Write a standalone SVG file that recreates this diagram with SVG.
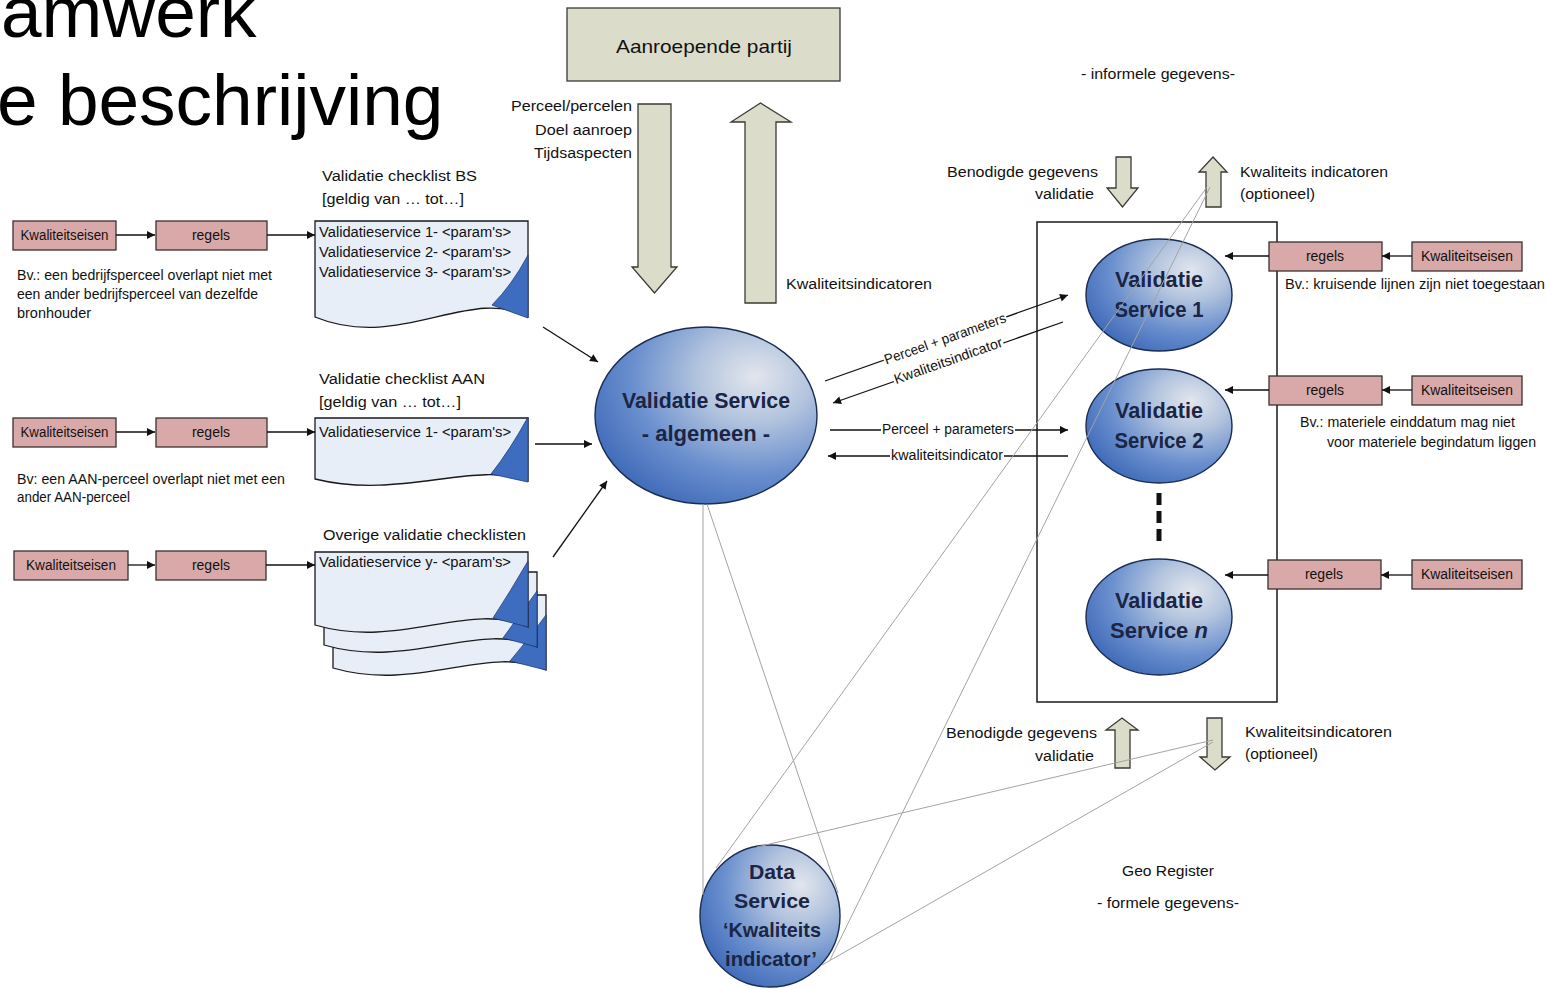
<svg xmlns="http://www.w3.org/2000/svg" width="1546" height="989" viewBox="0 0 1546 989">
<defs>
<style>
text{font-family:"Liberation Sans",Arial,sans-serif;fill:#111}
.s{font-size:14px}
.m{font-size:19px}
.b{font-size:22px;font-weight:bold;fill:#1b2545}
.bd{font-size:21px;font-weight:bold;fill:#1b2545}
.title{font-size:73px;fill:#000}
.pink{fill:#d9a9a9;stroke:#3a3030;stroke-width:1.3}
.tan{fill:#dcdccb;stroke:#3a3a34;stroke-width:1.3}
.doc{fill:#e8eef8;stroke:#1a1a1a;stroke-width:1.3}
.tri{fill:#3e6dbf;stroke:#1d3b78;stroke-width:0.8}
.ell{fill:url(#eg);stroke:#1b2b52;stroke-width:1.4}
.frame{fill:none;stroke:#1a1a1a;stroke-width:1.5}
.c{stroke:#111;stroke-width:1.3;fill:none}
.cm{stroke:#111;stroke-width:1.3;fill:none;marker-end:url(#ah)}
.g{stroke:#a3a3a3;stroke-width:1;fill:none}
.lbl{fill:#fff}
</style>
<radialGradient id="eg" cx="0.72" cy="0.28" r="0.85" fx="0.72" fy="0.28">
<stop offset="0" stop-color="#e2e6ed"/>
<stop offset="0.3" stop-color="#b3c4de"/>
<stop offset="0.65" stop-color="#6a8fce"/>
<stop offset="1" stop-color="#3a66b5"/>
</radialGradient>
<marker id="ah" viewBox="0 0 10 10" refX="10" refY="5" markerWidth="11" markerHeight="8" markerUnits="userSpaceOnUse" orient="auto">
<path d="M0,0 L10,5 L0,10 Z" fill="#111"/>
</marker>
</defs>
<rect width="1546" height="989" fill="#fff"/>

<g id="title">
<text class="title" x="1" y="37">amwerk</text>
<text class="title" x="-3" y="125">e beschrijving</text>
</g>

<!-- Left row 1 -->
<g id="kwal-l1"><rect class="pink" x="13" y="221" width="103" height="29"/><text class="s" x="64.5" y="240" text-anchor="middle" textLength="88" lengthAdjust="spacingAndGlyphs">Kwaliteitseisen</text></g>
<g id="regels-l1"><rect class="pink" x="156" y="221" width="111" height="29"/><text class="s" x="211" y="240" text-anchor="middle">regels</text></g>
<g id="note-l1">
<text class="s" x="17" y="280" textLength="255" lengthAdjust="spacingAndGlyphs">Bv.: een bedrijfsperceel overlapt niet met</text>
<text class="s" x="17" y="299" textLength="241" lengthAdjust="spacingAndGlyphs">een ander bedrijfsperceel van dezelfde</text>
<text class="s" x="17" y="318" textLength="74" lengthAdjust="spacingAndGlyphs">bronhouder</text>
</g>
<g id="checklist-bs">
<text class="s" x="322" y="181" textLength="155" lengthAdjust="spacingAndGlyphs">Validatie checklist BS</text>
<text class="s" x="322" y="204" textLength="142" lengthAdjust="spacingAndGlyphs">[geldig van … tot…]</text>
<path class="doc" d="M315,221 H528 V317 C470,285 400,352 315,317 Z"/>
<path class="tri" d="M528,255 Q512,285 492,305 L528,318 Z"/>
<text class="s" x="319" y="237" textLength="192" lengthAdjust="spacingAndGlyphs">Validatieservice 1- &lt;param's&gt;</text>
<text class="s" x="319" y="257" textLength="192" lengthAdjust="spacingAndGlyphs">Validatieservice 2- &lt;param's&gt;</text>
<text class="s" x="319" y="277" textLength="192" lengthAdjust="spacingAndGlyphs">Validatieservice 3- &lt;param's&gt;</text>
</g>

<!-- Left row 2 -->
<g id="kwal-l2"><rect class="pink" x="13" y="418" width="103" height="29"/><text class="s" x="64.5" y="437" text-anchor="middle" textLength="88" lengthAdjust="spacingAndGlyphs">Kwaliteitseisen</text></g>
<g id="regels-l2"><rect class="pink" x="156" y="418" width="111" height="29"/><text class="s" x="211" y="437" text-anchor="middle">regels</text></g>
<g id="note-l2">
<text class="s" x="17" y="484" textLength="268" lengthAdjust="spacingAndGlyphs">Bv: een AAN-perceel overlapt niet met een</text>
<text class="s" x="17" y="502" textLength="113" lengthAdjust="spacingAndGlyphs">ander AAN-perceel</text>
</g>
<g id="checklist-aan">
<text class="s" x="319" y="384" textLength="166" lengthAdjust="spacingAndGlyphs">Validatie checklist AAN</text>
<text class="s" x="319" y="407" textLength="142" lengthAdjust="spacingAndGlyphs">[geldig van … tot…]</text>
<path class="doc" d="M315,418 H528 V481 C475,460 400,500 315,479 Z"/>
<path class="tri" d="M528,417 Q510,450 491,474 L528,482 Z"/>
<text class="s" x="319" y="437" textLength="192" lengthAdjust="spacingAndGlyphs">Validatieservice 1- &lt;param's&gt;</text>
</g>

<!-- Left row 3 -->
<g id="kwal-l3"><rect class="pink" x="14" y="551" width="114" height="29"/><text class="s" x="71" y="570" text-anchor="middle" textLength="90" lengthAdjust="spacingAndGlyphs">Kwaliteitseisen</text></g>
<g id="regels-l3"><rect class="pink" x="156" y="551" width="110" height="29"/><text class="s" x="211" y="570" text-anchor="middle">regels</text></g>
<g id="checklist-overig">
<text class="s" x="323" y="540" textLength="203" lengthAdjust="spacingAndGlyphs">Overige validatie checklisten</text>
<path class="doc" d="M333,595 H546 V670 C489,643 419,693 333,668 Z"/>
<path class="tri" d="M546,615 Q528,640 510,661 L546,670 Z"/>
<path class="doc" d="M324,572 H537 V647 C480,620 410,670 324,645 Z"/>
<path class="tri" d="M537,591 Q519,616 503,638 L537,647 Z"/>
<path class="doc" d="M315,552 H528 V627 C470,600 400,650 315,625 Z"/>
<path class="tri" d="M528,561 Q510,592 493,618 L528,627 Z"/>
<text class="s" x="319" y="567" textLength="192" lengthAdjust="spacingAndGlyphs">Validatieservice y- &lt;param's&gt;</text>
</g>

<!-- Top centre -->
<g id="aanroepende-partij">
<rect class="tan" x="567" y="8" width="273" height="73"/>
<text class="m" x="704" y="53" text-anchor="middle" textLength="176" lengthAdjust="spacingAndGlyphs">Aanroepende partij</text>
</g>
<g id="request-arrow">
<path class="tan" d="M638,104 H671 V267 H677 L654.5,293 L632,267 H638 Z"/>
<text class="s" x="632" y="111" text-anchor="end" textLength="121" lengthAdjust="spacingAndGlyphs">Perceel/percelen</text>
<text class="s" x="632" y="135" text-anchor="end" textLength="97" lengthAdjust="spacingAndGlyphs">Doel aanroep</text>
<text class="s" x="632" y="158" text-anchor="end" textLength="98" lengthAdjust="spacingAndGlyphs">Tijdsaspecten</text>
</g>
<g id="response-arrow">
<path class="tan" d="M745,303 V122 H731 L760.5,103 L791,122 H776 V303 Z"/>
<text class="s" x="786" y="289" textLength="146" lengthAdjust="spacingAndGlyphs">Kwaliteitsindicatoren</text>
</g>

<g id="validatie-service-algemeen">
<ellipse class="ell" cx="706" cy="415.5" rx="111" ry="88.5"/>
<text class="b" x="706" y="408" text-anchor="middle" textLength="168" lengthAdjust="spacingAndGlyphs">Validatie Service</text>
<text class="b" x="706" y="441" text-anchor="middle">- algemeen -</text>
</g>

<!-- Right side: GeoRegister -->
<g id="informele">
<text class="s" x="1158" y="79" text-anchor="middle" textLength="154" lengthAdjust="spacingAndGlyphs">- informele gegevens-</text>
</g>
<g id="top-in-arrow">
<path class="tan" d="M1116,157 H1131 V188 H1138 L1122.5,207 L1107,188 H1116 Z"/>
<text class="s" x="1098" y="177" text-anchor="end" textLength="151" lengthAdjust="spacingAndGlyphs">Benodigde gegevens</text>
<text class="s" x="1094" y="199" text-anchor="end" textLength="59" lengthAdjust="spacingAndGlyphs">validatie</text>
</g>
<g id="top-out-arrow">
<path class="tan" d="M1206,207 V172 H1199 L1213,157 L1227,172 H1221 V207 Z"/>
<text class="s" x="1240" y="177" textLength="148" lengthAdjust="spacingAndGlyphs">Kwaliteits indicatoren</text>
<text class="s" x="1240" y="199" textLength="75" lengthAdjust="spacingAndGlyphs">(optioneel)</text>
</g>

<g id="validatie-services-frame"><rect class="frame" x="1037" y="222" width="240" height="480"/></g>

<g id="validatie-service-1">
<ellipse class="ell" cx="1159" cy="295" rx="73" ry="56"/>
<text class="b" x="1159" y="287" text-anchor="middle" textLength="88" lengthAdjust="spacingAndGlyphs">Validatie</text>
<text class="b" x="1159" y="317" text-anchor="middle" textLength="89" lengthAdjust="spacingAndGlyphs">Service 1</text>
</g>
<g id="validatie-service-2">
<ellipse class="ell" cx="1159" cy="426" rx="73" ry="57"/>
<text class="b" x="1159" y="418" text-anchor="middle" textLength="88" lengthAdjust="spacingAndGlyphs">Validatie</text>
<text class="b" x="1159" y="448" text-anchor="middle" textLength="89" lengthAdjust="spacingAndGlyphs">Service 2</text>
</g>
<g id="more-services">
<line x1="1159" y1="493" x2="1159" y2="543" stroke="#111" stroke-width="5" stroke-dasharray="12,6"/>
</g>
<g id="validatie-service-n">
<ellipse class="ell" cx="1159" cy="617" rx="73" ry="58"/>
<text class="b" x="1159" y="608" text-anchor="middle" textLength="88" lengthAdjust="spacingAndGlyphs">Validatie</text>
<text class="b" x="1159" y="638" text-anchor="middle">Service <tspan font-style="italic">n</tspan></text>
</g>

<g id="regels-r1"><rect class="pink" x="1269" y="242" width="113" height="29"/><text class="s" x="1325" y="261" text-anchor="middle">regels</text></g>
<g id="kwal-r1"><rect class="pink" x="1412" y="242" width="110" height="29"/><text class="s" x="1467" y="261" text-anchor="middle" textLength="92" lengthAdjust="spacingAndGlyphs">Kwaliteitseisen</text></g>
<g id="note-r1"><text class="s" x="1285" y="289" textLength="260" lengthAdjust="spacingAndGlyphs">Bv.: kruisende lijnen zijn niet toegestaan</text></g>

<g id="regels-r2"><rect class="pink" x="1269" y="376" width="113" height="29"/><text class="s" x="1325" y="395" text-anchor="middle">regels</text></g>
<g id="kwal-r2"><rect class="pink" x="1412" y="376" width="110" height="29"/><text class="s" x="1467" y="395" text-anchor="middle" textLength="92" lengthAdjust="spacingAndGlyphs">Kwaliteitseisen</text></g>
<g id="note-r2">
<text class="s" x="1300" y="427" textLength="215" lengthAdjust="spacingAndGlyphs">Bv.: materiele einddatum mag niet</text>
<text class="s" x="1327" y="447" textLength="209" lengthAdjust="spacingAndGlyphs">voor materiele begindatum liggen</text>
</g>

<g id="regels-r3"><rect class="pink" x="1268" y="560" width="113" height="29"/><text class="s" x="1324" y="579" text-anchor="middle">regels</text></g>
<g id="kwal-r3"><rect class="pink" x="1412" y="560" width="110" height="29"/><text class="s" x="1467" y="579" text-anchor="middle" textLength="92" lengthAdjust="spacingAndGlyphs">Kwaliteitseisen</text></g>

<g id="bottom-in-arrow">
<path class="tan" d="M1115,768 V730 H1106 L1122,718 L1138,730 H1130 V768 Z"/>
<text class="s" x="1097" y="738" text-anchor="end" textLength="151" lengthAdjust="spacingAndGlyphs">Benodigde gegevens</text>
<text class="s" x="1094" y="761" text-anchor="end" textLength="59" lengthAdjust="spacingAndGlyphs">validatie</text>
</g>
<g id="bottom-out-arrow">
<path class="tan" d="M1207,718 H1222 V757 H1230 L1215,770 L1200,757 H1207 Z"/>
<text class="s" x="1245" y="737" textLength="147" lengthAdjust="spacingAndGlyphs">Kwaliteitsindicatoren</text>
<text class="s" x="1245" y="759" textLength="73" lengthAdjust="spacingAndGlyphs">(optioneel)</text>
</g>
<g id="georegister">
<text class="s" x="1168" y="876" text-anchor="middle" textLength="92" lengthAdjust="spacingAndGlyphs">Geo Register</text>
<text class="s" x="1168" y="908" text-anchor="middle" textLength="142" lengthAdjust="spacingAndGlyphs">- formele gegevens-</text>
</g>

<g id="data-service">
<ellipse class="ell" cx="770" cy="916" rx="70" ry="71"/>
<text class="bd" x="772" y="879" text-anchor="middle" textLength="46" lengthAdjust="spacingAndGlyphs">Data</text>
<text class="bd" x="772" y="908" text-anchor="middle" textLength="76" lengthAdjust="spacingAndGlyphs">Service</text>
<text class="bd" x="772" y="937" text-anchor="middle" textLength="98" lengthAdjust="spacingAndGlyphs">‘Kwaliteits</text>
<text class="bd" x="771" y="966" text-anchor="middle" textLength="92" lengthAdjust="spacingAndGlyphs">indicator’</text>
</g>

<g id="connectors">
<!-- left rows -->
<line class="cm" x1="116" y1="235" x2="155" y2="235"/>
<line class="cm" x1="267" y1="235" x2="315" y2="235"/>
<line class="cm" x1="116" y1="432" x2="155" y2="432"/>
<line class="cm" x1="267" y1="432" x2="315" y2="432"/>
<line class="cm" x1="128" y1="565" x2="155" y2="565"/>
<line class="cm" x1="266" y1="565" x2="315" y2="565"/>
<!-- checklists to algemeen -->
<line class="cm" x1="543" y1="327" x2="598" y2="362"/>
<line class="cm" x1="535" y1="444" x2="592" y2="444"/>
<line class="cm" x1="553" y1="557" x2="607" y2="481"/>
<!-- algemeen to service 1 -->
<line class="cm" x1="825" y1="381" x2="1068" y2="295"/>
<line class="cm" x1="1063" y1="322" x2="833" y2="403"/>
<g transform="translate(945,338.5) rotate(-19.5)"><rect class="lbl" x="-65" y="-7" width="130" height="13"/><text class="s" x="0" y="5" text-anchor="middle" textLength="128" lengthAdjust="spacingAndGlyphs">Perceel + parameters</text></g>
<g transform="translate(948,360.5) rotate(-19.4)"><rect class="lbl" x="-58" y="-7" width="116" height="13"/><text class="s" x="0" y="5" text-anchor="middle" textLength="114" lengthAdjust="spacingAndGlyphs">Kwaliteitsindicator</text></g>
<!-- algemeen to service 2 -->
<line class="cm" x1="830" y1="430" x2="1068" y2="430"/>
<line class="cm" x1="1068" y1="456" x2="828" y2="456"/>
<rect class="lbl" x="881" y="423" width="134" height="13"/>
<text class="s" x="948" y="434" text-anchor="middle" textLength="132" lengthAdjust="spacingAndGlyphs">Perceel + parameters</text>
<rect class="lbl" x="890" y="449" width="114" height="13"/>
<text class="s" x="947" y="460" text-anchor="middle" textLength="112" lengthAdjust="spacingAndGlyphs">kwaliteitsindicator</text>
<!-- right rows -->
<line class="cm" x1="1412" y1="256" x2="1382" y2="256"/>
<line class="cm" x1="1269" y1="256" x2="1225" y2="256"/>
<line class="cm" x1="1412" y1="390" x2="1382" y2="390"/>
<line class="cm" x1="1269" y1="390" x2="1225" y2="390"/>
<line class="cm" x1="1412" y1="575" x2="1381" y2="575"/>
<line class="cm" x1="1268" y1="575" x2="1225" y2="575"/>
<!-- grey data-service links -->
<line class="g" x1="703" y1="504" x2="703" y2="895"/>
<line class="g" x1="707" y1="504" x2="838" y2="893"/>
<line class="g" x1="1207" y1="187" x2="716" y2="868"/>
<line class="g" x1="1210" y1="187" x2="830" y2="960"/>
<line class="g" x1="1213" y1="740" x2="757" y2="847"/>
<line class="g" x1="1213" y1="742" x2="822" y2="965"/>
</g>
</svg>
